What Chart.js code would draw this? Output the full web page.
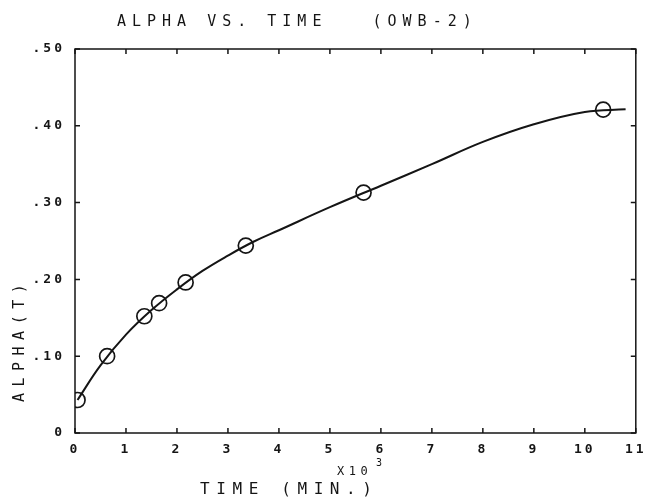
<!DOCTYPE html>
<html>
<head>
<meta charset="utf-8">
<script src="https://cdn.jsdelivr.net/npm/chart.js@4.4.1/dist/chart.umd.min.js"></script>
<style>
  html, body { margin: 0; padding: 0; background: #fff; }
  canvas { display: block; }
</style>
</head>
<body>
<canvas id="alphaChart" width="645" height="500"></canvas>
<script>
// measured points (time in 10^3 min)
const sampleTime = [0.05, 0.63, 1.36, 1.65, 2.17, 3.35, 5.66, 10.36];
const sampleAlpha = [0.043, 0.100, 0.152, 0.169, 0.196, 0.244, 0.313, 0.421];

// fitted curve
const fitTime = [0.05, 0.5, 1, 1.5, 2, 2.5, 3, 3.5, 4, 5, 6, 7, 8, 9, 10, 10.8];
const fitAlpha = [0.043, 0.088, 0.128, 0.160, 0.187, 0.211, 0.231, 0.249, 0.264, 0.294, 0.322, 0.350, 0.379, 0.402, 0.418, 0.4215];

const xTickLabels = ["0", "1", "2", "3", "4", "5", "6", "7", "8", "9", "10", "11"];
const yTickLabels = ["0", ".10", ".20", ".30", ".40", ".50"];

const FONT = '"DejaVu Sans Mono", monospace';
const INK = "#151515";

// box, inward ticks and the plotter-style texts
const frame = {
  id: "frame",
  beforeDraw(chart) {
    chart.ctx.letterSpacing = "3px";
  },
  afterDraw(chart) {
    const { ctx, chartArea: a, scales: { x, y } } = chart;
    ctx.save();
    ctx.letterSpacing = "0px";
    ctx.strokeStyle = INK;
    ctx.lineWidth = 1.5;
    ctx.strokeRect(a.left, a.top, a.right - a.left, a.bottom - a.top);

    ctx.beginPath();
    x.ticks.forEach((t) => {
      const px = x.getPixelForValue(t.value);
      ctx.moveTo(px, a.bottom);
      ctx.lineTo(px, a.bottom - 5);
      ctx.moveTo(px, a.top);
      ctx.lineTo(px, a.top + 5);
    });
    y.ticks.forEach((t) => {
      const py = y.getPixelForValue(t.value);
      ctx.moveTo(a.left, py);
      ctx.lineTo(a.left + 5, py);
      ctx.moveTo(a.right, py);
      ctx.lineTo(a.right - 5, py);
    });
    ctx.stroke();

    ctx.fillStyle = INK;
    ctx.textBaseline = "middle";
    ctx.textAlign = "left";

    ctx.font = "15px " + FONT;
    ctx.letterSpacing = "6px";
    ctx.fillText("ALPHA VS. TIME   (OWB-2)", 117, 22);

    ctx.font = "16px " + FONT;
    ctx.letterSpacing = "6.6px";
    ctx.fillText("TIME (MIN.)", 200, 490);

    ctx.font = "12px " + FONT;
    ctx.letterSpacing = "4.5px";
    ctx.fillText("X10", 337, 472);
    ctx.font = "10px " + FONT;
    ctx.fillText("3", 376, 463);

    ctx.translate(20, 402);
    ctx.rotate(-Math.PI / 2);
    ctx.font = "15px " + FONT;
    ctx.letterSpacing = "6.5px";
    ctx.fillText("ALPHA(T)", 0, 0);
    ctx.restore();
  },
};

const ctx = document.getElementById("alphaChart").getContext("2d");
new Chart(ctx, {
  type: "scatter",
  data: {
    datasets: [
      {
        label: "fit",
        data: fitTime.map((t, i) => ({ x: t, y: fitAlpha[i] })),
        showLine: true,
        borderColor: INK,
        borderWidth: 2,
        pointRadius: 0,
        tension: 0.4,
      },
      {
        label: "ALPHA(T)",
        data: sampleTime.map((t, i) => ({ x: t, y: sampleAlpha[i] })),
        pointStyle: "circle",
        pointRadius: 7.5,
        pointBorderWidth: 1.7,
        pointBorderColor: INK,
        pointBackgroundColor: "rgba(0,0,0,0)",
      },
    ],
  },
  options: {
    responsive: false,
    animation: false,
    layout: { padding: { top: 49, right: 9, left: 0, bottom: 0 } },
    plugins: {
      legend: { display: false },
      tooltip: { enabled: false },
    },
    scales: {
      x: {
        type: "linear",
        min: 0,
        max: 11,
        grid: { display: false, drawTicks: false },
        border: { display: false },
        ticks: {
          stepSize: 1,
          autoSkip: false,
          maxRotation: 0,
          padding: 9,
          color: INK,
          font: { family: FONT, size: 13, weight: "bold" },
          callback: (v, i) => xTickLabels[i],
        },
        afterFit(s) {
          s.height = 67;
          s.paddingLeft = 0;
          s.paddingRight = 0;
        },
      },
      y: {
        min: 0,
        max: 0.5,
        grid: { display: false, drawTicks: false },
        border: { display: false },
        ticks: {
          stepSize: 0.1,
          padding: 10,
          color: INK,
          font: { family: FONT, size: 13, weight: "bold" },
          callback: (v, i) => yTickLabels[i],
        },
        afterFit(s) {
          s.width = 75;
          s.paddingTop = 0;
          s.paddingBottom = 0;
        },
      },
    },
  },
  plugins: [frame],
});
</script>
</body>
</html>
